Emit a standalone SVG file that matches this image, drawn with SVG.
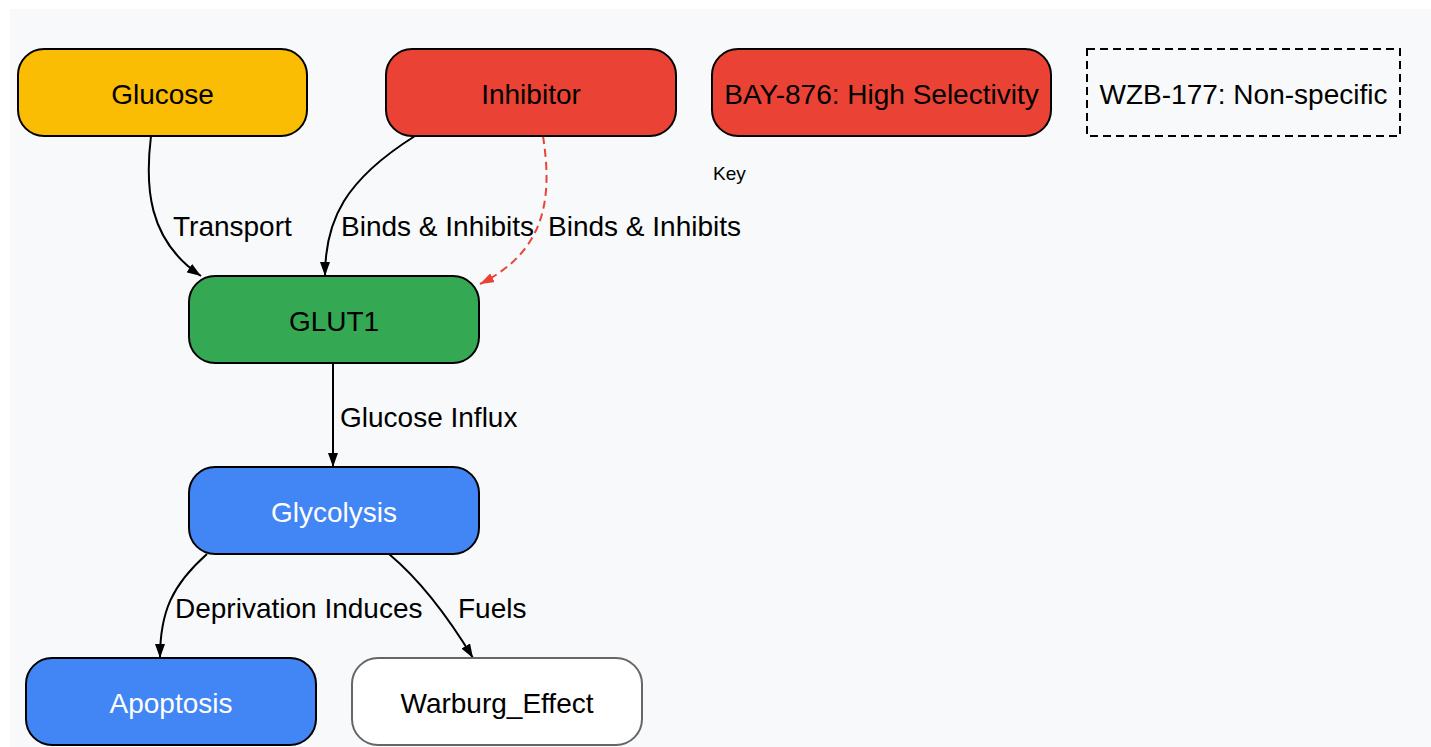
<svg xmlns="http://www.w3.org/2000/svg" width="1431" height="747" viewBox="0 0 1431 747">
<defs>
<style>
.node{stroke:#000;stroke-width:2}
.t{font-family:"Liberation Sans",Arial,sans-serif;font-size:28px;fill:#000;text-anchor:middle}
.w{fill:#fff}
.lbl{font-family:"Liberation Sans",Arial,sans-serif;font-size:28px;fill:#000}
.edge{fill:none;stroke:#000;stroke-width:2}
.dash{fill:none;stroke:#ea4335;stroke-width:2;stroke-dasharray:8,5}
</style>
<marker id="ah" viewBox="0 0 14 10" refX="14" refY="5" markerWidth="14" markerHeight="10" markerUnits="userSpaceOnUse" orient="auto">
<path d="M0,0L14,5L0,10z" fill="#000"/>
</marker>
<marker id="ahr" viewBox="0 0 14 10" refX="14" refY="5" markerWidth="14" markerHeight="10" markerUnits="userSpaceOnUse" orient="auto">
<path d="M0,0L14,5L0,10z" fill="#ea4335"/>
</marker>
</defs>
<rect x="0" y="0" width="1431" height="747" fill="#fff"/>
<rect x="10" y="9" width="1421" height="738" fill="#f8f9fa"/>
<g id="edges">
<path class="edge" d="M151,136 C145,185 147,240 201,276" marker-end="url(#ah)"/>
<path class="edge" d="M415,136 C345,180 325,220 325,276" marker-end="url(#ah)"/>
<path class="dash" d="M543,136 C552,195 548,250 480,284" marker-end="url(#ahr)"/>
<path class="edge" d="M333,363 L333,467" marker-end="url(#ah)"/>
<path class="edge" d="M207,554 C172,585 160,612 160,658" marker-end="url(#ah)"/>
<path class="edge" d="M389,554 C420,580 450,620 473,658" marker-end="url(#ah)"/>
<text class="lbl" x="173" y="236">Transport</text>
<text class="lbl" x="341" y="236">Binds &amp; Inhibits</text>
<text class="lbl" x="548" y="236">Binds &amp; Inhibits</text>
<text class="lbl" x="340" y="427">Glucose Influx</text>
<text class="lbl" x="175" y="618">Deprivation Induces</text>
<text class="lbl" x="458" y="618">Fuels</text>
</g>
<g id="glucose"><rect class="node" x="18" y="49" width="289" height="87" rx="26" fill="#fbbc04"/><text class="t" x="162.5" y="104">Glucose</text></g>
<g id="inhibitor"><rect class="node" x="386" y="49" width="290" height="87" rx="26" fill="#ea4335"/><text class="t" x="531" y="104">Inhibitor</text></g>
<g id="bay876"><rect class="node" x="712" y="49" width="339" height="87" rx="26" fill="#ea4335"/><text class="t" x="881.5" y="104">BAY-876: High Selectivity</text></g>
<g id="wzb177"><rect x="1087" y="49" width="313" height="87" fill="none" stroke="#000" stroke-width="2" stroke-dasharray="8,5"/><text class="t" x="1243.5" y="104">WZB-177: Non-specific</text></g>
<g id="key"><text x="713" y="180" font-family="Liberation Sans,Arial,sans-serif" font-size="19" fill="#000">Key</text></g>
<g id="glut1"><rect class="node" x="189" y="276" width="290" height="87" rx="26" fill="#34a853"/><text class="t" x="334" y="331">GLUT1</text></g>
<g id="glycolysis"><rect class="node" x="189" y="467" width="290" height="87" rx="26" fill="#4285f4"/><text class="t w" x="334" y="522">Glycolysis</text></g>
<g id="apoptosis"><rect class="node" x="26" y="658" width="290" height="87" rx="26" fill="#4285f4"/><text class="t w" x="171" y="713">Apoptosis</text></g>
<g id="warburg"><rect x="352" y="658" width="290" height="87" rx="26" fill="#fff" stroke="#666" stroke-width="2"/><text class="t" x="497" y="713">Warburg_Effect</text></g>
</svg>
